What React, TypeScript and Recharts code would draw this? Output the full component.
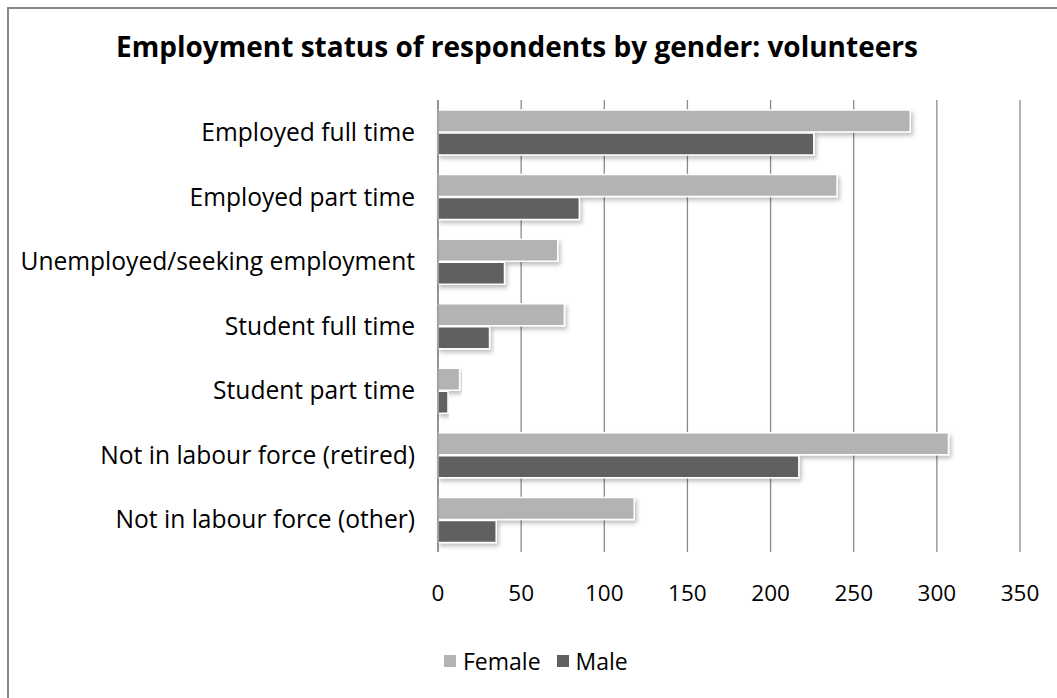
import { BarChart, Bar, XAxis, YAxis, CartesianGrid } from "recharts";

const CATEGORIES = [
  "Employed full time",
  "Employed part time",
  "Unemployed/seeking employment",
  "Student full time",
  "Student part time",
  "Not in labour force (retired)",
  "Not in labour force (other)",
];
const FEMALE = [284, 240, 72, 76, 13, 307, 118];
const MALE = [226, 85, 40, 31, 6, 217, 35];
const X_TICKS = [0, 50, 100, 150, 200, 250, 300, 350];

const FONT = "'Open Sans', sans-serif";
const FEMALE_COLOR = "#b3b3b3";
const MALE_COLOR = "#616161";
const GRID = "#8a8a8a";

const data = CATEGORIES.map((name, i) => ({
  name,
  Female: FEMALE[i],
  Male: MALE[i],
}));

const LEGEND = [
  { label: "Female", color: FEMALE_COLOR },
  { label: "Male", color: MALE_COLOR },
];

export default function App() {
  return (
    <div style={{ position: "absolute", left: 0, top: 0, width: 1057, height: 698, overflow: "hidden", background: "#fff" }}>
      <div
        style={{
          position: "absolute",
          left: 7,
          top: 7,
          width: 1100,
          height: 800,
          borderLeft: "2px solid #888",
          borderTop: "2px solid #888",
        }}
      />
      <div
        style={{
          position: "absolute",
          left: 0,
          width: 1034,
          top: 27,
          textAlign: "center",
          fontFamily: FONT,
          fontWeight: 700,
          fontSize: 28,
          color: "#000",
        }}
      >
        Employment status of respondents by gender: volunteers
      </div>
      <div style={{ position: "absolute", left: 0, top: 0 }}>
        <BarChart
          width={1057}
          height={698}
          data={data}
          layout="vertical"
          margin={{ top: 100, right: 37, bottom: 106, left: 0 }}
          barSize={22}
          barGap={1}
        >
          <defs>
            <filter id="shadow" x="-5%" y="-30%" width="115%" height="170%">
              <feDropShadow dx="2" dy="3" stdDeviation="2" floodColor="#000" floodOpacity="0.25" />
            </filter>
          </defs>
          <CartesianGrid horizontal={false} stroke={GRID} strokeWidth={1.3} />
          <XAxis
            type="number"
            domain={[0, 350]}
            ticks={X_TICKS}
            axisLine={false}
            tickLine={false}
            tickSize={0}
            tickMargin={33}
            height={40}
            tick={{ fontFamily: FONT, fontSize: 22.5, fill: "#000" }}
          />
          <YAxis
            type="category"
            dataKey="name"
            width={438}
            axisLine={{ stroke: GRID, strokeWidth: 1.5 }}
            tickLine={false}
            tickSize={0}
            tickMargin={23}
            interval={0}
            tick={{ fontFamily: FONT, fontSize: 24.6, fill: "#000" }}
          />
          <Bar
            dataKey="Female"
            fill={FEMALE_COLOR}
            stroke="#fff"
            strokeWidth={1.5}
            filter="url(#shadow)"
            isAnimationActive={false}
          />
          <Bar
            dataKey="Male"
            fill={MALE_COLOR}
            stroke="#fff"
            strokeWidth={1.5}
            filter="url(#shadow)"
            isAnimationActive={false}
          />
        </BarChart>
      </div>
      <div
        style={{
          position: "absolute",
          left: 444,
          top: 645,
          display: "flex",
          alignItems: "center",
          fontFamily: FONT,
          fontSize: 23,
        }}
      >
        {LEGEND.map((it) => (
          <div key={it.label} style={{ display: "flex", alignItems: "center", marginRight: 16 }}>
            <span style={{ width: 12, height: 12, background: it.color, marginRight: 7 }} />
            <span style={{ color: "#000" }}>{it.label}</span>
          </div>
        ))}
      </div>
    </div>
  );
}
